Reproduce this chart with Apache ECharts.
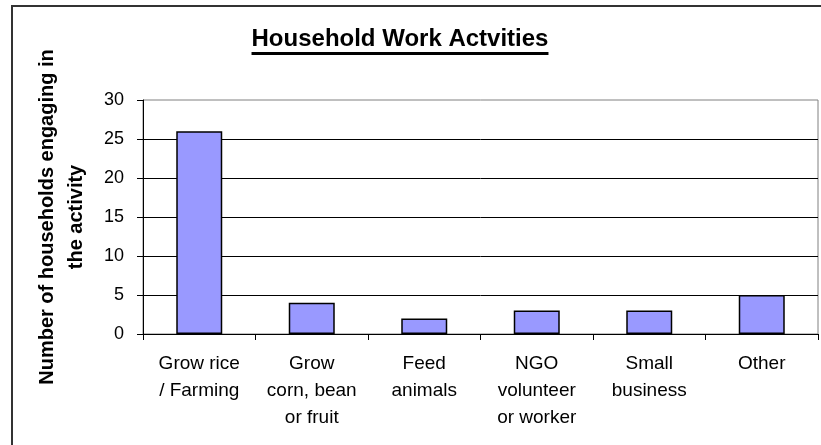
<!DOCTYPE html>
<html>
<head>
<meta charset="utf-8">
<script src="https://cdn.jsdelivr.net/npm/echarts@6/dist/echarts.min.js"></script>
<style>
  html, body { margin: 0; padding: 0; background: #fff; }
  #chart { width: 821px; height: 445px; }
</style>
</head>
<body>
<div id="chart"></div>
<script>
const titleText = 'Household Work Actvities';
const yAxisTitle = 'Number of households engaging in\nthe activity';
const categories = [
  'Grow rice\n/ Farming',
  'Grow\ncorn, bean\nor fruit',
  'Feed\nanimals',
  'NGO\nvolunteer\nor worker',
  'Small\nbusiness',
  'Other'
];
const values = [26, 4, 2, 3, 3, 5];
const yTicks = { min: 0, max: 30, interval: 5 };

const FONT = 'Liberation Sans, Arial, sans-serif';
const titleFont = 'bold 24px ' + FONT;
const mc = document.createElement('canvas').getContext('2d');
mc.font = titleFont;
const titleW = mc.measureText(titleText).width;
const titleCx = 400;

const chart = echarts.init(document.getElementById('chart'), null, { renderer: 'canvas' });
chart.setOption({
  animation: false,
  backgroundColor: '#ffffff',
  graphic: [
    {
      type: 'rect', silent: true, z: -10,
      shape: { x: 12, y: 6, width: 840, height: 470 },
      style: { fill: 'none', stroke: '#333333', lineWidth: 2 }
    },
    {
      type: 'text', silent: true,
      style: {
        x: titleCx, y: 27, text: titleText, font: titleFont,
        fill: '#000', textAlign: 'center', textVerticalAlign: 'top'
      }
    },
    {
      type: 'rect', silent: true,
      shape: { x: titleCx - titleW / 2, y: 52, width: titleW, height: 3 },
      style: { fill: '#000' }
    }
  ],
  grid: {
    left: 143, right: 3, top: 100, bottom: 111,
    show: true, borderColor: '#808080', borderWidth: 1, containLabel: false
  },
  xAxis: {
    type: 'category',
    data: categories,
    axisLine: { lineStyle: { color: '#000', width: 1 } },
    axisTick: { show: true, length: 6, lineStyle: { color: '#000' } },
    axisLabel: {
      interval: 0, color: '#000', fontFamily: FONT, fontSize: 19,
      lineHeight: 27, margin: 16, align: 'center'
    }
  },
  yAxis: {
    type: 'value',
    min: yTicks.min, max: yTicks.max, interval: yTicks.interval,
    name: yAxisTitle,
    nameLocation: 'middle',
    nameRotate: 90,
    nameGap: 52,
    nameTextStyle: {
      fontFamily: FONT, fontSize: 20, fontWeight: 'bold', color: '#000',
      lineHeight: 29, align: 'center'
    },
    axisLine: { show: true, lineStyle: { color: '#000', width: 1 } },
    axisTick: { show: true, length: 6, lineStyle: { color: '#000' } },
    axisLabel: { color: '#000', fontFamily: FONT, fontSize: 18, margin: 19 },
    splitLine: { show: true, showMaxLine: false, showMinLine: false, lineStyle: { color: '#000', width: 1 } }
  },
  series: [{
    type: 'bar',
    data: values,
    barWidth: 46,
    itemStyle: { color: '#9999ff', borderColor: '#000', borderWidth: 1.5 }
  }]
});
</script>
</body>
</html>
